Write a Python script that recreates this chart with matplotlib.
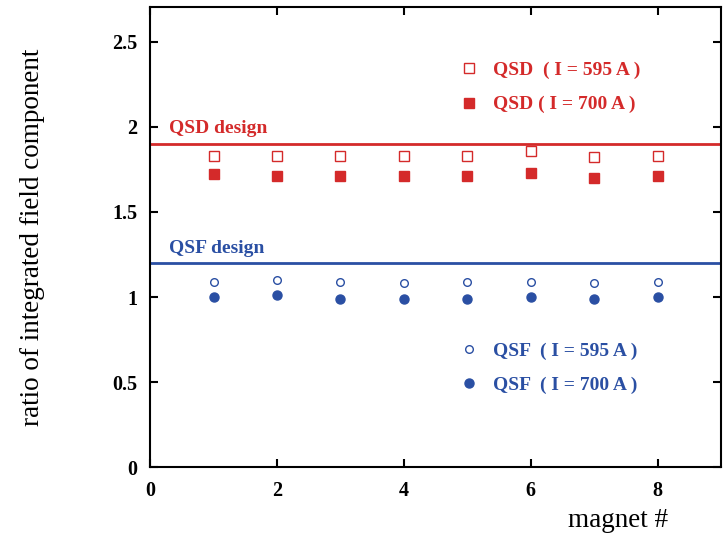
import matplotlib
matplotlib.use('Agg')
import matplotlib.pyplot as plt

# data
magnet = [1, 2, 3, 4, 5, 6, 7, 8]
qsd_595 = [1.83, 1.83, 1.83, 1.83, 1.83, 1.86, 1.82, 1.83]
qsd_700 = [1.72, 1.71, 1.71, 1.71, 1.71, 1.73, 1.70, 1.71]
qsf_595 = [1.09, 1.10, 1.09, 1.08, 1.09, 1.09, 1.08, 1.09]
qsf_700 = [1.00, 1.01, 0.99, 0.99, 0.99, 1.00, 0.99, 1.00]
qsd_design = 1.9
qsf_design = 1.2

red = '#d42a2a'
blue = '#2a4fa3'

plt.rcParams['font.family'] = ['Liberation Serif', 'DejaVu Serif']

fig = plt.figure(figsize=(7.25, 5.33), dpi=100)
ax = fig.add_axes([0.207, 0.123, 0.7876, 0.863])

# design lines
ax.axhline(qsd_design, color=red, lw=2)
ax.axhline(qsf_design, color=blue, lw=2)
ax.annotate('QSD design', (0.3, qsd_design), xytext=(0, 5), textcoords='offset points',
            color=red, fontsize=14, fontweight='bold', va='bottom')
ax.annotate('QSF design', (0.3, qsf_design), xytext=(0, 4), textcoords='offset points',
            color=blue, fontsize=14, fontweight='bold', va='bottom')

# measured points
h1, = ax.plot(magnet, qsd_595, ls='none', marker='s', ms=6.5, mfc='white', mec=red, mew=1)
h2, = ax.plot(magnet, qsd_700, ls='none', marker='s', ms=7.5, mfc=red, mec=red)
h3, = ax.plot(magnet, qsf_595, ls='none', marker='o', ms=5.5, mfc='white', mec=blue, mew=1)
h4, = ax.plot(magnet, qsf_700, ls='none', marker='o', ms=6.5, mfc=blue, mec=blue)

# two legends, text coloured like the series
leg_kw = dict(frameon=False, loc='center left', borderpad=0, handlelength=1.0,
              handletextpad=0.75, labelspacing=0.85,
              prop={'weight': 'bold', 'size': 14})
leg1 = ax.legend([h1, h2], ['QSD  ( I = 595 A )', 'QSD ( I = 700 A )'],
                 bbox_to_anchor=(4.72, 2.23), bbox_transform=ax.transData,
                 labelcolor=red, **leg_kw)
ax.add_artist(leg1)
ax.legend([h3, h4], ['QSF  ( I = 595 A )', 'QSF  ( I = 700 A )'],
          bbox_to_anchor=(4.72, 0.585), bbox_transform=ax.transData,
          labelcolor=blue, **leg_kw)

ax.set_xlim(0, 9)
ax.set_ylim(0, 2.7)
ax.set_xticks([0, 2, 4, 6, 8])
ax.set_yticks([0, 0.5, 1, 1.5, 2, 2.5])
ax.set_yticklabels(['0', '0.5', '1', '1.5', '2', '2.5'])
ax.tick_params(direction='in', length=6, width=1.5, top=True, right=True,
               labelsize=14.5)
ax.tick_params(axis='y', pad=9)
ax.tick_params(axis='x', pad=10)
for lab in ax.get_xticklabels() + ax.get_yticklabels():
    lab.set_fontweight('bold')
for sp in ax.spines.values():
    sp.set_linewidth(1.5)

ax.set_ylabel('ratio of integrated field component', fontsize=19.5)
ax.yaxis.set_label_coords(-0.184, 0.5)
ax.set_xlabel('magnet #', fontsize=19.5)
ax.xaxis.set_label_coords(0.82, -0.088)

fig.savefig('out.png', dpi=100)
